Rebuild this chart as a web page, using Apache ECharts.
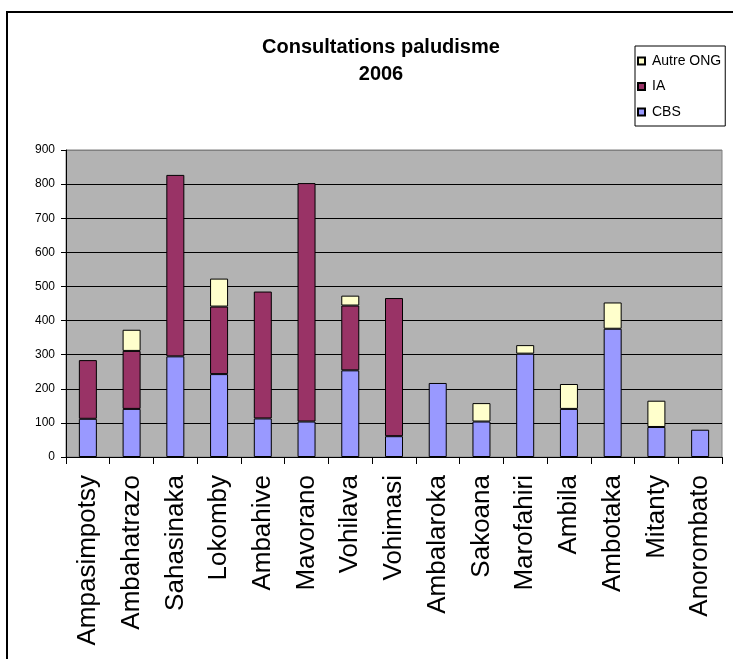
<!DOCTYPE html>
<html>
<head>
<meta charset="utf-8">
<script src="https://cdn.jsdelivr.net/npm/echarts@6/dist/echarts.min.js"></script>
<style>
  html, body { margin: 0; padding: 0; background: #fff; }
  #chart { width: 733px; height: 659px; }
</style>
</head>
<body>
<div id="chart"></div>
<script>
// Villages (communes) reporting malaria consultations in 2006
const villages = ['Ampasimpotsy', 'Ambahatrazo', 'Sahasinaka', 'Lokomby', 'Ambahive',
  'Mavorano', 'Vohilava', 'Vohimasi', 'Ambalaroka', 'Sakoana', 'Marofahiri',
  'Ambila', 'Ambotaka', 'Mitanty', 'Anorombato'];

// Consultations by provider (null = none reported)
const cbs = [112, 141, 295, 243, 113, 104, 254, 61, 217, 104, 303, 141, 376, 88, 80];
const ia = [172, 170, 532, 198, 372, 699, 190, 405, null, null, null, null, null, null, null];
const autreOng = [null, 62, null, 82, null, null, 29, null, null, 54, 25, 73, 77, 77, null];

const yTicks = { min: 0, max: 900, step: 100 };

const FONT = "'Liberation Sans', Arial, sans-serif";

const chart = echarts.init(document.getElementById('chart'), null, { renderer: 'canvas' });

// Split lines are black, except the top one which sits on the grey plot border
const splitColors = [];
for (let v = yTicks.min; v <= yTicks.max; v += yTicks.step) {
  splitColors.push(v === yTicks.max ? '#808080' : '#000000');
}

const barStyle = (color) => ({ color: color, borderColor: '#000', borderWidth: 1 });

chart.setOption({
  animation: false,
  backgroundColor: '#ffffff',
  textStyle: { fontFamily: FONT },
  title: {
    text: 'Consultations paludisme\n2006',
    left: 376,
    textAlign: 'center',
    top: 29,
    textStyle: { fontFamily: FONT, fontSize: 20, fontWeight: 'bold', color: '#000', lineHeight: 27 }
  },
  legend: {
    data: ['Autre ONG', 'IA', 'CBS'],
    orient: 'vertical',
    left: 635,
    top: 46,
    width: 89,
    height: 79,
    padding: [8, 4, 7, 2],
    itemGap: 11.5,
    itemWidth: 7,
    itemHeight: 7,
    icon: 'rect',
    borderColor: '#000',
    borderWidth: 1,
    backgroundColor: '#fff',
    textStyle: { fontFamily: FONT, fontSize: 14, color: '#000', padding: [0, 0, 0, 2] }
  },
  grid: {
    left: 66,
    top: 150,
    width: 656,
    height: 307,
    show: true,
    backgroundColor: '#B3B3B3',
    borderColor: '#808080',
    borderWidth: 1
  },
  xAxis: {
    type: 'category',
    data: villages,
    boundaryGap: true,
    axisLine: { lineStyle: { color: '#000', width: 1 } },
    axisTick: { show: true, length: 7, lineStyle: { color: '#000' } },
    axisLabel: {
      rotate: 90,
      interval: 0,
      margin: 18,
      fontFamily: FONT,
      fontSize: 26,
      color: '#000'
    }
  },
  yAxis: {
    type: 'value',
    min: yTicks.min,
    max: yTicks.max,
    interval: yTicks.step,
    axisLine: { show: true, lineStyle: { color: '#000', width: 1 } },
    axisTick: { show: true, length: 5, lineStyle: { color: '#000' } },
    axisLabel: { fontFamily: FONT, fontSize: 12, color: '#000', margin: 11 },
    splitLine: { show: true, lineStyle: { color: splitColors, width: 1 } }
  },
  series: [
    { name: 'CBS', type: 'bar', stack: 'total', data: cbs, barWidth: 18, itemStyle: barStyle('#9999FF') },
    { name: 'IA', type: 'bar', stack: 'total', data: ia, barWidth: 18, itemStyle: barStyle('#993366') },
    { name: 'Autre ONG', type: 'bar', stack: 'total', data: autreOng, barWidth: 18, itemStyle: barStyle('#FFFFCC') }
  ],
  graphic: [
    {
      type: 'rect',
      silent: true,
      z: 100,
      shape: { x: 7, y: 12, width: 1000, height: 1000 },
      style: { fill: 'none', stroke: '#000', lineWidth: 2 }
    }
  ]
});
</script>
</body>
</html>
